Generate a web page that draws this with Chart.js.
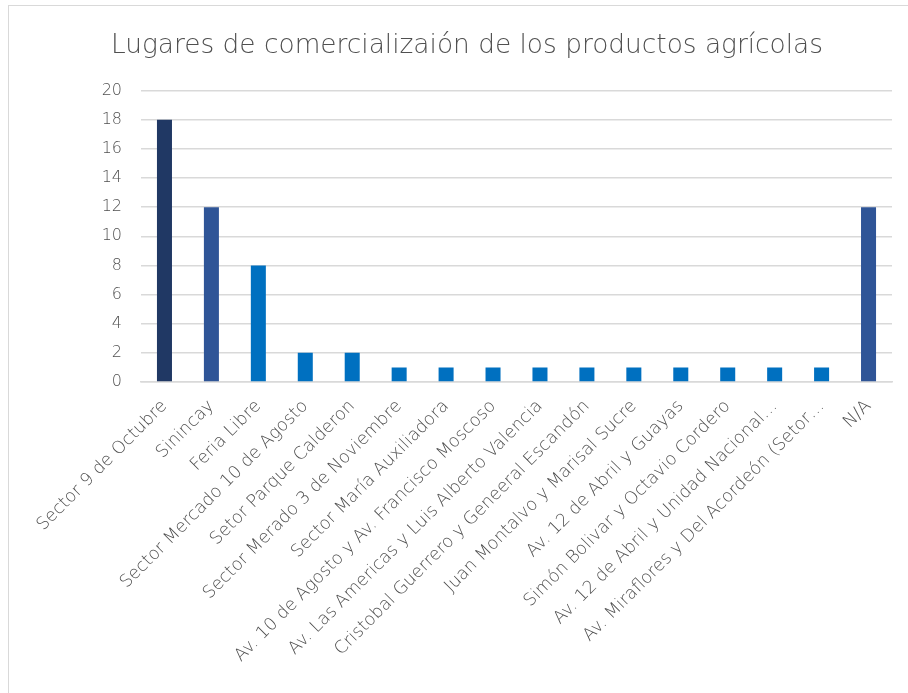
<!DOCTYPE html>
<html>
<head>
<meta charset="utf-8">
<script src="https://cdn.jsdelivr.net/npm/chart.js@4"></script>
<style>
  html, body { margin: 0; padding: 0; background: #ffffff; overflow: hidden; }
  #frame { position: absolute; left: 8px; top: 5px; width: 940px; height: 720px; border: 1.5px solid #d9d9d9; box-sizing: border-box; }
  #wrap { position: absolute; left: 0; top: 0; width: 908px; height: 693px; }
</style>
</head>
<body>
<div id="frame"></div>
<div id="wrap"><canvas id="c" width="908" height="693"></canvas></div>
<script>
const titleText = "Lugares de comercializaión de los productos agrícolas";

const categories = [
  "Sector 9 de Octubre",
  "Sinincay",
  "Feria Libre",
  "Sector Mercado 10 de Agosto",
  "Setor Parque Calderon",
  "Sector Merado 3 de Noviembre",
  "Sector María Auxiliadora",
  "Av. 10 de Agosto y Av. Francisco Moscoso",
  "Av. Las Americas y Luis Alberto Valencia",
  "Cristobal Guerrero y Geneeral Escandón",
  "Juan Montalvo y Marisal Sucre",
  "Av. 12 de Abril y Guayas",
  "Simón Bolivar y Octavio Cordero",
  "Av. 12 de Abril y Unidad Nacional…",
  "Av. Miraflores y Del Acordeón (Setor…",
  "N/A"
];

const counts = [18, 12, 8, 2, 2, 1, 1, 1, 1, 1, 1, 1, 1, 1, 1, 12];

const yTicks = [0, 2, 4, 6, 8, 10, 12, 14, 16, 18, 20];

const FONT = "'DejaVu Sans', sans-serif";
const TEXT = "#505050";
const GRID = "#d9d9d9";

function barColor(ctx) {
  const v = ctx.raw;
  if (v >= 18) return "#203864";
  if (v >= 12) return "#2F5597";
  return "#0070C0";
}

new Chart(document.getElementById("c"), {
  type: "bar",
  data: {
    labels: categories,
    datasets: [{
      data: counts,
      backgroundColor: barColor,
      borderWidth: 0,
      categoryPercentage: 1.0,
      barPercentage: 0.32
    }]
  },
  options: {
    responsive: false,
    animation: false,
    devicePixelRatio: 1,
    layout: { padding: { left: 42, right: 16, top: 0, bottom: 0 } },
    plugins: {
      legend: { display: false },
      tooltip: { enabled: false },
      title: {
        display: true,
        text: titleText,
        color: TEXT,
        font: { family: FONT, size: 26.4, weight: 200 },
        padding: { top: 30, bottom: 29 }
      }
    },
    scales: {
      x: {
        grid: { display: false, drawTicks: false },
        border: { display: true, color: GRID, width: 1.5 },
        ticks: {
          color: TEXT,
          font: { family: FONT, size: 17.5, weight: 200 },
          minRotation: 45,
          maxRotation: 45,
          autoSkip: false,
          padding: 14
        },
        afterFit(scale) { scale.height = 311; }
      },
      y: {
        min: 0,
        max: 20,
        afterBuildTicks(scale) { scale.ticks = yTicks.map(v => ({ value: v })); },
        grid: { color: GRID, lineWidth: 1.5, drawTicks: false },
        border: { display: false },
        ticks: {
          color: TEXT,
          font: { family: FONT, size: 16, weight: 200 },
          padding: 19
        },
        afterFit(scale) { scale.width = 99; }
      }
    }
  }
});
</script>
</body>
</html>
